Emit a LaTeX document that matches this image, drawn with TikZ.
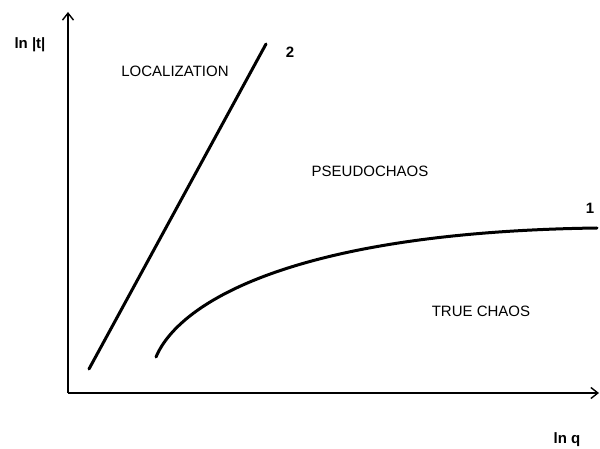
\documentclass[tikz,border=0pt]{standalone}
\usepackage{fontspec}
\setmainfont{Liberation Sans}
\usetikzlibrary{arrows.meta}
\begin{document}
\begin{tikzpicture}[x=1pt,y=-1pt,
  lbl/.style={font=\fontsize{15}{17}\selectfont, inner sep=0pt},
  axis/.style={line width=1.3pt, -{Straight Barb[length=7pt,width=11pt,line width=1.4pt]}},
  curve/.style={line width=3pt, line cap=round}]
\useasboundingbox (0,0) rectangle (600,449);
\coordinate (O) at (68,393);
\coordinate (Ytop) at (68,12);
\coordinate (Xend) at (599,393);
\draw[axis] (O) -- (Ytop);
\draw[axis] (O) -- (Xend);
\node[lbl] (ylab) at (30,45) {\bfseries ln |t|};
\node[lbl] (xlab) at (567,440) {\bfseries ln q};
\node[lbl] (loc) at (175,71) {LOCALIZATION};
\node[lbl] (pseudo) at (370,171) {PSEUDOCHAOS};
\node[lbl] (true) at (481,311) {TRUE CHAOS};
\node[lbl] (two) at (290,52) {\bfseries 2};
\node[lbl] (one) at (590,208) {\bfseries 1};
\coordinate (L2a) at (89,369);
\coordinate (L2b) at (266,44);
\coordinate (C1a) at (156,357);
\coordinate (C1b) at (597,228);
\draw[curve] (L2a) -- (L2b);
\draw[curve] (C1a) .. controls (180,300) and (300,232) .. (C1b);
\end{tikzpicture}
\end{document}
